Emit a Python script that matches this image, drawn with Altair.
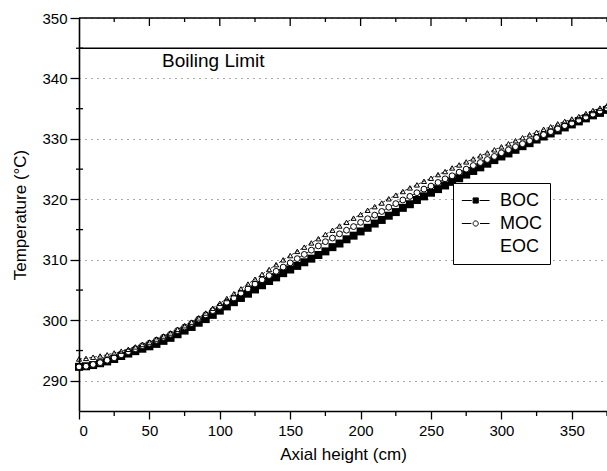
import altair as alt
import pandas as pd

# Axial positions (cm) of the computed coolant temperatures
height_cm = list(range(0, 380, 5))

# Coolant temperature (deg C) along the channel at three points of the cycle
boc = [292.3, 292.4, 292.6, 292.9, 293.2, 293.6, 294.1, 294.5, 294.9, 295.3,
       295.7, 296.1, 296.6, 297.1, 297.7, 298.3, 298.9, 299.6, 300.2, 300.9,
       301.6, 302.3, 303.0, 303.7, 304.4, 305.1, 305.8, 306.5, 307.1, 307.8,
       308.4, 309.0, 309.6, 310.2, 310.8, 311.4, 312.1, 312.7, 313.4, 314.0,
       314.7, 315.3, 316.0, 316.6, 317.3, 317.9, 318.6, 319.2, 319.9, 320.5,
       321.1, 321.7, 322.3, 322.9, 323.5, 324.1, 324.7, 325.3, 325.9, 326.5,
       327.1, 327.6, 328.2, 328.8, 329.3, 329.9, 330.4, 330.9, 331.4, 331.9,
       332.4, 332.9, 333.4, 333.9, 334.3, 334.8]
moc = [292.3, 292.4, 292.7, 293.0, 293.4, 293.8, 294.3, 294.8, 295.3, 295.8,
       296.2, 296.7, 297.2, 297.7, 298.3, 298.9, 299.5, 300.2, 300.9, 301.6,
       302.3, 303.0, 303.7, 304.5, 305.2, 306.0, 306.7, 307.4, 308.1, 308.8,
       309.5, 310.2, 310.9, 311.6, 312.3, 313.0, 313.6, 314.3, 314.9, 315.5,
       316.2, 316.8, 317.4, 318.0, 318.7, 319.3, 319.9, 320.5, 321.1, 321.7,
       322.2, 322.8, 323.4, 323.9, 324.5, 325.0, 325.6, 326.1, 326.6, 327.1,
       327.7, 328.2, 328.7, 329.2, 329.7, 330.2, 330.7, 331.2, 331.7, 332.2,
       332.6, 333.1, 333.6, 334.1, 334.6, 335.1]
eoc = [293.6, 293.7, 293.9, 294.1, 294.3, 294.6, 294.9, 295.2, 295.6, 296.0,
       296.4, 296.9, 297.4, 297.9, 298.5, 299.1, 299.7, 300.4, 301.2, 302.0,
       302.8, 303.6, 304.4, 305.2, 306.0, 306.8, 307.6, 308.4, 309.2, 310.0,
       310.7, 311.4, 312.1, 312.8, 313.5, 314.2, 314.9, 315.6, 316.2, 316.9,
       317.5, 318.2, 318.8, 319.4, 320.1, 320.7, 321.3, 321.9, 322.4, 323.0,
       323.5, 324.1, 324.6, 325.2, 325.7, 326.2, 326.7, 327.2, 327.7, 328.2,
       328.7, 329.2, 329.7, 330.2, 330.7, 331.1, 331.6, 332.0, 332.5, 332.9,
       333.3, 333.7, 334.2, 334.7, 335.1, 335.5]

series_names = ["BOC", "MOC", "EOC"]
boiling_limit = 345
boiling_label = "Boiling Limit"

x_ticks = [0, 50, 100, 150, 200, 250, 300, 350]
x_minor = [25, 75, 125, 175, 225, 275, 325, 375]
y_ticks = [290, 300, 310, 320, 330, 340, 350]
y_minor = [295, 305, 315, 325, 335, 345]

FONT = "Liberation Sans"
W, H = 528, 393

rows = []
for name, vals in zip(series_names, [boc, moc, eoc]):
    for h, t in zip(height_cm, vals):
        rows.append({"h": h, "T": t, "case": name})
df = pd.DataFrame(rows)

xs = alt.Scale(domain=[0, 375], nice=False, zero=False)
ys = alt.Scale(domain=[285, 350], nice=False, zero=False)

x_enc = alt.X("h:Q", scale=xs, axis=alt.Axis(
    values=x_ticks, title="Axial height (cm)", grid=False, tickSize=8,
    labelPadding=4, titlePadding=8))
y_enc = alt.Y("T:Q", scale=ys, axis=alt.Axis(
    values=y_ticks, title="Temperature (\u00b0C)", tickSize=9,
    labelPadding=3, titlePadding=12, grid=True, gridColor="#555555",
    gridDash=[1, 5], gridWidth=1))

base = alt.Chart(df)

boc_line = base.transform_filter(alt.datum.case == "BOC").mark_line(
    color="black", strokeWidth=1).encode(x=x_enc, y=y_enc)
boc_pts = base.transform_filter(alt.datum.case == "BOC").mark_point(
    shape="square", filled=True, color="black", size=64, opacity=1).encode(x="h:Q", y="T:Q")
moc_line = base.transform_filter(alt.datum.case == "MOC").mark_line(
    color="black", strokeWidth=0.8).encode(x="h:Q", y="T:Q")
moc_pts = base.transform_filter(alt.datum.case == "MOC").mark_point(
    shape="circle", filled=True, fill="white", stroke="black", strokeWidth=1,
    size=34, opacity=1).encode(x="h:Q", y="T:Q")
eoc_line = base.transform_filter(alt.datum.case == "EOC").mark_line(
    color="black", strokeWidth=0.8, strokeDash=[3, 2]).encode(x="h:Q", y="T:Q")
eoc_pts = base.transform_filter(alt.datum.case == "EOC").mark_point(
    shape="triangle-up", filled=False, stroke="black", strokeWidth=1,
    size=26, opacity=1).encode(x="h:Q", y="T:Q")

# legend entries: line-marker-line glyphs (drawn right of the symbol origin)
legend_df = pd.DataFrame({"case": series_names, "h": [0] * 3, "T": [0] * 3})
glyph_boc = "M-1,0H0.15M1.05,0H2.2M0.3,-0.3H0.9V0.3H0.3Z"
glyph_moc = "M-1,0H0.1M1.1,0H2.2M0.9,0A0.3,0.3,0,1,1,0.3,0A0.3,0.3,0,1,1,0.9,0Z"
glyph_eoc = "M0,0"
legend_props = dict(
    title=None, orient="none", legendX=374, legendY=165,
    strokeColor="black", fillColor="white", padding=8,
    symbolSize=300, symbolStrokeWidth=1, labelFontSize=18, labelFont=FONT,
    labelColor="black", rowPadding=4, labelOffset=20, symbolOpacity=1, offset=0)
legend_layer = alt.Chart(legend_df).mark_point(
    clip=True, strokeWidth=1, opacity=1, filled=True).encode(
    x="h:Q", y="T:Q",
    shape=alt.Shape("case:N", scale=alt.Scale(domain=series_names,
                    range=[glyph_boc, glyph_moc, glyph_eoc]),
                    legend=alt.Legend(**legend_props)),
    fill=alt.Fill("case:N", scale=alt.Scale(domain=series_names,
                  range=["black", "white", "white"]),
                  legend=alt.Legend(**legend_props)),
    stroke=alt.Stroke("case:N", scale=alt.Scale(domain=series_names,
                      range=["black", "black", "black"]),
                      legend=alt.Legend(**legend_props)),
)

# boiling limit line and label
limit_rule = alt.Chart(pd.DataFrame({"T": [boiling_limit]})).mark_rule(
    color="black", strokeWidth=1.6).encode(y="T:Q")
limit_text = alt.Chart(pd.DataFrame({"h": [59], "T": [341.9], "t": [boiling_label]})).mark_text(
    align="left", baseline="alphabetic", font=FONT, fontSize=19, color="black").encode(
    x="h:Q", y="T:Q", text="t:N")

# frame: top border with inward ticks, minor ticks on bottom and left
top_rule = alt.Chart(pd.DataFrame({"T": [350]})).mark_rule(
    color="black", strokeWidth=1.6).encode(y="T:Q")
top_major = alt.Chart(pd.DataFrame({"h": x_ticks[1:]})).mark_rule(
    color="black", strokeWidth=1.3).encode(x="h:Q", y=alt.value(0), y2=alt.value(8))
top_minor = alt.Chart(pd.DataFrame({"h": x_minor})).mark_rule(
    color="black", strokeWidth=1.3).encode(x="h:Q", y=alt.value(0), y2=alt.value(4))
bottom_minor = alt.Chart(pd.DataFrame({"h": x_minor})).mark_rule(
    color="black", strokeWidth=1.3).encode(x="h:Q", y=alt.value(H), y2=alt.value(H + 5))
left_minor = alt.Chart(pd.DataFrame({"T": y_minor})).mark_rule(
    color="black", strokeWidth=1.3).encode(y="T:Q", x=alt.value(-3), x2=alt.value(4))

chart = alt.layer(
    boc_line, boc_pts, moc_line, moc_pts, eoc_line, eoc_pts, legend_layer,
    limit_rule, limit_text, top_rule, top_major, top_minor, bottom_minor, left_minor,
).properties(
    width=W, height=H,
    background="white",
    autosize=alt.AutoSizeParams(type="none"),
    padding={"left": 79, "top": 18, "right": 0, "bottom": 60},
).configure_view(strokeWidth=0).configure_axis(
    domainColor="black", domainWidth=1.6, tickColor="black", tickWidth=1.3,
    labelFont=FONT, labelFontSize=15, labelColor="black",
    titleFont=FONT, titleFontSize=17, titleColor="black", titleFontWeight="normal",
)

chart.save("out.html", embed_options={"renderer": "svg", "actions": False})
